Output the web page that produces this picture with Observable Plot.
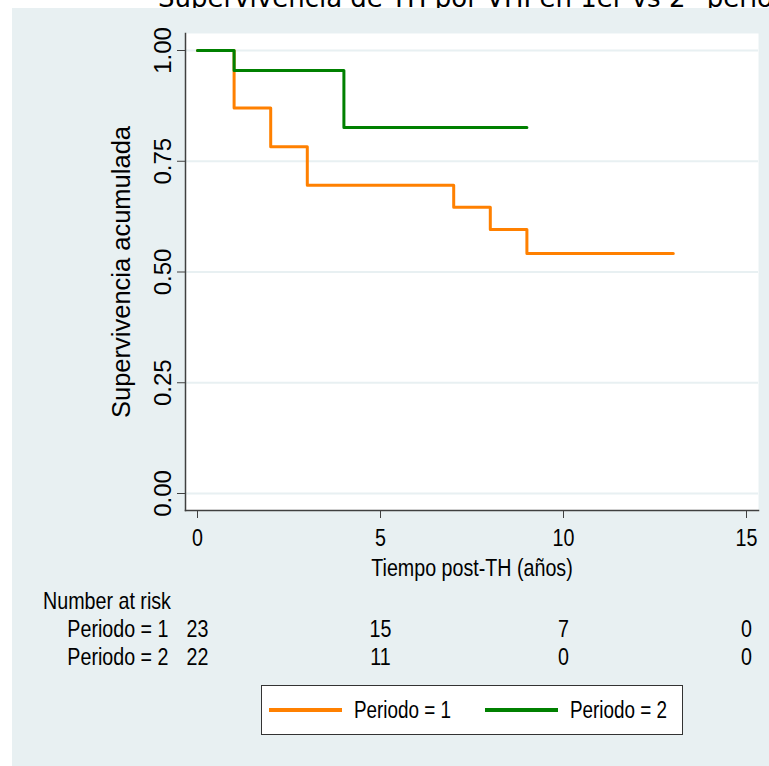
<!DOCTYPE html>
<html>
<head>
<meta charset="utf-8">
<script src="https://cdn.jsdelivr.net/npm/d3@7"></script>
<script src="https://cdn.jsdelivr.net/npm/@observablehq/plot@0.6"></script>
<style>
  body { margin: 0; background: #ffffff; }
  #page { position: relative; width: 769px; height: 766px; overflow: hidden; }
  #title { position: absolute; left: 158px; top: -15px; font-family: "DejaVu Sans"; font-size: 26px; line-height: 26px; white-space: nowrap; color: #000; }
  #panel { position: absolute; left: 12px; top: 8px; right: 0; bottom: 0; background: #e8f0f2; }
  .abs { position: absolute; }
  .narrow { font-family: "Liberation Sans", Arial, sans-serif; display: inline-block; white-space: nowrap; transform: scaleX(0.82); transform-origin: left center; color: #000; }
  #riskhead { position: absolute; left: 43px; top: 589px; font-size: 24px; line-height: 24px; }
  #legend { position: absolute; left: 261px; top: 685px; width: 413px; height: 48px; background: #fff; border: 1px solid #333; display: flex; align-items: center; padding-left: 7px; }
  .item { display: flex; align-items: center; width: 216px; flex: none; }
  .swatch { width: 73px; height: 4px; margin-right: 12px; flex: none; }
  .lab { font-size: 23px; line-height: 26px; }
</style>
</head>
<body>
<div id="page">
  <div id="title">Supervivencia de TH por VHI en 1er vs 2° periodo</div>
  <div id="panel"></div>
  <div id="main" class="abs" style="left:0;top:0"></div>
  <div id="riskhead" class="narrow">Number at risk</div>
  <div id="risk" class="abs" style="left:0;top:610px"></div>
  <div id="legend"></div>
</div>
<script>
// Kaplan-Meier estimates by transplant period
const periodos = ["Periodo = 1", "Periodo = 2"];
const colores = ["#ff8000", "#008000"];

const tiempo1 = [0, 1, 2, 3, 7, 8, 9, 13];
const superv1 = [1.000, 0.870, 0.783, 0.696, 0.646, 0.596, 0.542, 0.542];
const tiempo2 = [0, 1, 4, 9];
const superv2 = [1.000, 0.955, 0.826, 0.826];

const yTicks = [0, 0.25, 0.5, 0.75, 1];
const xTicks = [0, 5, 10, 15];

// Number at risk at each x tick
const riesgo1 = [23, 15, 7, 0];
const riesgo2 = [22, 11, 0, 0];

const curvas = [
  ...tiempo1.map((t, i) => ({t, s: superv1[i], periodo: periodos[0]})),
  ...tiempo2.map((t, i) => ({t, s: superv2[i], periodo: periodos[1]}))
];

const riesgo = [
  ...xTicks.map((t, i) => ({t, n: riesgo1[i], periodo: periodos[0]})),
  ...xTicks.map((t, i) => ({t, n: riesgo2[i], periodo: periodos[1]}))
];

// "Narrow" text is Liberation Sans squeezed horizontally around its anchor
const narrow = "Liberation Sans Narrow, Liberation Sans, Arial, sans-serif";
const regular = "Liberation Sans, Arial, sans-serif";
const axisColor = "#404040";
const gridColor = "#e8f0f2";

function condense(svg, k = 0.82) {
  d3.select(svg).selectAll('g[font-family^="Liberation Sans Narrow"] text').each(function () {
    const t = this.getAttribute("transform") || "";
    const x = parseFloat(this.getAttribute("x")) || 0;
    this.setAttribute("transform", `${t} translate(${x},0) scale(${k},1) translate(${-x},0)`);
  });
  return svg;
}

const xScale = {domain: [0, 15], insetLeft: 12, insetRight: 12};

const main = Plot.plot({
  width: 769,
  height: 590,
  marginLeft: 185,
  marginRight: 11,
  marginTop: 33,
  marginBottom: 80,
  style: {background: "transparent", color: "#000", overflow: "visible"},
  x: xScale,
  y: {domain: [0, 1], insetTop: 17, insetBottom: 17},
  color: {domain: periodos, range: colores},
  marks: [
    Plot.frame({fill: "white"}),
    Plot.gridY(yTicks, {stroke: gridColor, strokeOpacity: 1, strokeWidth: 2}),
    Plot.line(curvas, {x: "t", y: "s", stroke: "periodo", z: "periodo", curve: "step-after", strokeWidth: 3}),
    Plot.frame({anchor: "left", stroke: axisColor, strokeWidth: 1.5}),
    Plot.frame({anchor: "bottom", stroke: axisColor, strokeWidth: 1.5}),
    Plot.axisY({ticks: yTicks, tickFormat: d3.format(".2f"), tickSize: 8, tickPadding: 7, tickRotate: -90,
      stroke: axisColor, fill: "#000", fontSize: 24, fontFamily: regular, label: null}),
    Plot.axisX({ticks: xTicks, tickSize: 8, tickPadding: 10, stroke: axisColor, fill: "#000",
      fontSize: 24, fontFamily: narrow, label: null}),
    Plot.text(["Supervivencia acumulada"], {frameAnchor: "left", textAnchor: "middle", rotate: -90, dx: -64,
      fontSize: 25.5, fontFamily: regular, fill: "#000"}),
    Plot.text(["Tiempo post-TH (años)"], {frameAnchor: "bottom", lineAnchor: "middle", dy: 58, fontSize: 24,
      fontFamily: narrow, fill: "#000"})
  ]
});
document.getElementById("main").append(condense(main));

const risk = Plot.plot({
  width: 769,
  height: 65,
  marginLeft: 185,
  marginRight: 11,
  marginTop: 19,
  marginBottom: 18,
  style: {background: "transparent", color: "#000", overflow: "visible"},
  x: {...xScale, axis: null},
  y: {type: "point", domain: periodos, padding: 0},
  marks: [
    Plot.axisY({tickSize: 0, tickPadding: 17, fontSize: 24, fontFamily: narrow, fill: "#000", label: null}),
    Plot.text(riesgo, {x: "t", y: "periodo", text: "n", fontSize: 24, fontFamily: narrow, fill: "#000"})
  ]
});
document.getElementById("risk").append(condense(risk));

// Legend built from the same categories and colours
const legend = document.getElementById("legend");
periodos.forEach((p, i) => {
  const item = document.createElement("div");
  item.className = "item";
  const sw = document.createElement("div");
  sw.className = "swatch";
  sw.style.background = colores[i];
  const lab = document.createElement("span");
  lab.className = "lab narrow";
  lab.textContent = p;
  item.append(sw, lab);
  legend.append(item);
});
</script>
</body>
</html>
